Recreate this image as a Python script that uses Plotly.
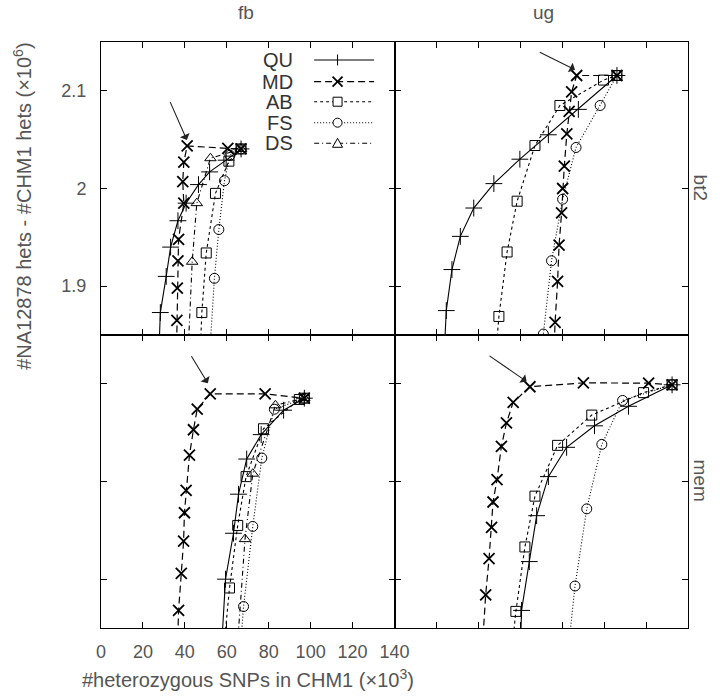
import plotly.graph_objects as go

SERIES = ["QU", "MD", "AB", "FS", "DS"]
COLUMNS = ["fb", "ug"]
ROWS = ["bt2", "mem"]
X_TICKS = [0, 20, 40, 60, 80, 100, 120, 140]
Y_TICKS = [1.9, 2.0, 2.1]
Y_TICK_LABELS = ["1.9", "2", "2.1"]

# ---- fb / bt2 ----
fb_bt2_QU_x = [27.6, 28.3, 31.1, 33.2, 36.7, 40.6, 46.5, 51.8, 59.7, 66.8]
fb_bt2_QU_y = [1.83, 1.873, 1.910, 1.940, 1.967, 1.985, 2.004, 2.017, 2.029, 2.0405]
fb_bt2_MD_x = [36.0, 36.2, 36.4, 36.7, 37.0, 39.5, 39.0, 39.5, 41.1, 60.5, 66.8]
fb_bt2_MD_y = [1.83, 1.865, 1.898, 1.926, 1.948, 1.985, 2.007, 2.027, 2.0436, 2.041, 2.0405]
fb_bt2_AB_x = [47.3, 48.1, 50.2, 54.6, 61.0, 66.8]
fb_bt2_AB_y = [1.83, 1.873, 1.934, 1.995, 2.028, 2.0405]
fb_bt2_FS_x = [51.8, 54.1, 56.2, 58.9, 61.5, 66.8]
fb_bt2_FS_y = [1.83, 1.908, 1.958, 2.008, 2.034, 2.0405]
fb_bt2_DS_x = [41.5, 43.5, 45.7, 52.2, 66.8]
fb_bt2_DS_y = [1.83, 1.925, 1.985, 2.031, 2.0405]

# ---- ug / bt2 ----
ug_bt2_QU_x = [23.7, 24.7, 27.4, 31.4, 37.8, 47.4, 59.8, 73.4, 87.7, 106.1]
ug_bt2_QU_y = [1.83, 1.875, 1.917, 1.951, 1.980, 2.005, 2.030, 2.055, 2.081, 2.1157]
ug_bt2_MD_x = [76.0, 76.6, 77.8, 78.5, 79.7, 80.2, 81.0, 82.2, 83.3, 84.5, 86.9, 106.1]
ug_bt2_MD_y = [1.83, 1.863, 1.905, 1.942, 1.975, 2.000, 2.023, 2.056, 2.079, 2.099, 2.1157, 2.1157]
ug_bt2_AB_x = [48.3, 49.8, 53.7, 58.5, 67.0, 78.9, 99.7, 106.1]
ug_bt2_AB_y = [1.83, 1.869, 1.935, 1.987, 2.044, 2.085, 2.111, 2.1157]
ug_bt2_FS_x = [70.3, 71.0, 74.9, 80.2, 86.6, 98.1, 106.1]
ug_bt2_FS_y = [1.83, 1.851, 1.926, 1.989, 2.042, 2.085, 2.1157]

# ---- fb / mem ----
fb_mem_QU_x = [57.5, 59.4, 63.2, 65.6, 69.5, 76.4, 87.1, 97.0]
fb_mem_QU_y = [1.83, 1.900, 1.947, 1.987, 2.023, 2.048, 2.073, 2.0853]
fb_mem_MD_x = [36.5, 37.0, 38.3, 39.4, 39.8, 40.6, 42.2, 44.1, 45.9, 52.1, 78.3, 97.0]
fb_mem_MD_y = [1.83, 1.868, 1.906, 1.939, 1.968, 1.991, 2.027, 2.053, 2.074, 2.0897, 2.0897, 2.0853]
fb_mem_AB_x = [58.6, 61.3, 65.2, 69.2, 77.5, 94.6, 97.0]
fb_mem_AB_y = [1.83, 1.891, 1.955, 2.005, 2.054, 2.084, 2.0853]
fb_mem_FS_x = [66.5, 68.0, 72.4, 76.7, 82.7, 97.0]
fb_mem_FS_y = [1.83, 1.872, 1.954, 2.024, 2.074, 2.0853]
fb_mem_DS_x = [65.0, 68.7, 72.4, 83.2, 97.0]
fb_mem_DS_y = [1.83, 1.941, 2.008, 2.078, 2.0853]

# ---- ug / mem ----
ug_mem_QU_x = [60.1, 60.6, 64.3, 67.8, 73.4, 82.1, 95.4, 111.6, 132.4]
ug_mem_QU_y = [1.83, 1.868, 1.918, 1.965, 2.005, 2.035, 2.057, 2.077, 2.099]
ug_mem_MD_x = [41.9, 43.5, 45.1, 46.3, 47.0, 48.9, 51.0, 53.4, 56.6, 64.6, 90.1, 121.2, 132.4]
ug_mem_MD_y = [1.83, 1.884, 1.921, 1.953, 1.979, 2.002, 2.036, 2.060, 2.081, 2.097, 2.101, 2.1007, 2.099]
ug_mem_AB_x = [56.1, 57.9, 62.2, 67.0, 77.8, 94.1, 118.8, 132.4]
ug_mem_AB_y = [1.83, 1.867, 1.933, 1.985, 2.037, 2.068, 2.091, 2.099]
ug_mem_FS_x = [83.0, 86.1, 91.7, 98.9, 108.8, 132.4]
ug_mem_FS_y = [1.83, 1.893, 1.972, 2.038, 2.083, 2.099]

# arrows: (head x, head y, tail x, tail y) per panel
ARROWS = {
    "fb_bt2": (40.95, 2.0497, 32.7, 2.090),
    "ug_bt2": (86.1, 2.1215, 68.6, 2.1403),
    "fb_mem": (50.95, 2.1007, 42.7, 2.1297),
    "ug_mem": (63.0, 2.1024, 44.6, 2.1297),
}

DATA = {
    "fb_bt2": {"QU": (fb_bt2_QU_x, fb_bt2_QU_y), "MD": (fb_bt2_MD_x, fb_bt2_MD_y),
               "AB": (fb_bt2_AB_x, fb_bt2_AB_y), "FS": (fb_bt2_FS_x, fb_bt2_FS_y),
               "DS": (fb_bt2_DS_x, fb_bt2_DS_y)},
    "ug_bt2": {"QU": (ug_bt2_QU_x, ug_bt2_QU_y), "MD": (ug_bt2_MD_x, ug_bt2_MD_y),
               "AB": (ug_bt2_AB_x, ug_bt2_AB_y), "FS": (ug_bt2_FS_x, ug_bt2_FS_y)},
    "fb_mem": {"QU": (fb_mem_QU_x, fb_mem_QU_y), "MD": (fb_mem_MD_x, fb_mem_MD_y),
               "AB": (fb_mem_AB_x, fb_mem_AB_y), "FS": (fb_mem_FS_x, fb_mem_FS_y),
               "DS": (fb_mem_DS_x, fb_mem_DS_y)},
    "ug_mem": {"QU": (ug_mem_QU_x, ug_mem_QU_y), "MD": (ug_mem_MD_x, ug_mem_MD_y),
               "AB": (ug_mem_AB_x, ug_mem_AB_y), "FS": (ug_mem_FS_x, ug_mem_FS_y)},
}

STYLE = {
    "QU": dict(dash="solid", symbol="cross-thin", size=12, mlw=1.0, lw=1.1),
    "MD": dict(dash="7px,4px", symbol="x-thin", size=11, mlw=1.8, lw=1.2),
    "AB": dict(dash="3px,3px", symbol="square-open", size=10, mlw=1.0, lw=1.1),
    "FS": dict(dash="1px,2px", symbol="circle-open", size=10, mlw=1.0, lw=1.1),
    "DS": dict(dash="5px,3px,1px,3px", symbol="triangle-up-open", size=10, mlw=1.0, lw=1.1),
}

PANELS = [("fb_bt2", "x", "y"), ("ug_bt2", "x2", "y2"),
          ("fb_mem", "x3", "y3"), ("ug_mem", "x4", "y4")]

fig = go.Figure()
for key, xa, ya in PANELS:
    for name in SERIES:
        if name not in DATA[key]:
            continue
        xs, ys = DATA[key][name]
        st = STYLE[name]
        fig.add_trace(go.Scatter(
            x=xs, y=ys, xaxis=xa, yaxis=ya, mode="lines+markers", name=name,
            showlegend=False, cliponaxis=True,
            line=dict(color="black", width=st["lw"], dash=st["dash"]),
            marker=dict(symbol=st["symbol"], size=st["size"], color="black",
                        line=dict(color="black", width=st["mlw"])),
        ))

TICK_FONT = dict(family="Liberation Sans, Arial, sans-serif", size=18, color="#555")
common_x = dict(range=[0, 140], tickvals=X_TICKS, ticks="inside", ticklen=6,
                tickcolor="black", showline=True, linecolor="black", linewidth=1,
                mirror="ticks", showgrid=False, zeroline=False, tickfont=TICK_FONT,
                ticklabelstandoff=7)
common_y = dict(range=[1.85, 2.15], tickvals=Y_TICKS, ticktext=Y_TICK_LABELS,
                ticks="inside", ticklen=6, tickcolor="black", showline=True,
                linecolor="black", linewidth=1, mirror="ticks", showgrid=False,
                zeroline=False, tickfont=TICK_FONT, ticklabelstandoff=10)

fig.update_layout(
    width=720, height=696,
    margin=dict(l=101, r=32, t=42, b=68),
    paper_bgcolor="white", plot_bgcolor="white",
    showlegend=False,
    xaxis=dict(common_x, domain=[0, 0.5], anchor="y", showticklabels=False),
    yaxis=dict(common_y, domain=[0.5, 1], anchor="x", showticklabels=True),
    xaxis2=dict(common_x, domain=[0.5, 1], anchor="y2", showticklabels=False),
    yaxis2=dict(common_y, domain=[0.5, 1], anchor="x2", showticklabels=False),
    xaxis3=dict(common_x, domain=[0, 0.5], anchor="y3", showticklabels=True),
    yaxis3=dict(common_y, domain=[0, 0.5], anchor="x3", showticklabels=False),
    xaxis4=dict(common_x, domain=[0.5, 1], anchor="y4", showticklabels=False),
    yaxis4=dict(common_y, domain=[0, 0.5], anchor="x4", showticklabels=False),
)

TEXT_FONT = dict(family="Liberation Sans, Arial, sans-serif", size=19, color="#555")
annotations = []
# column titles
annotations.append(dict(text=COLUMNS[0], x=0.247, y=1.051, xref="paper", yref="paper",
                        showarrow=False, font=TEXT_FONT, xanchor="center", yanchor="middle"))
annotations.append(dict(text=COLUMNS[1], x=0.753, y=1.051, xref="paper", yref="paper",
                        showarrow=False, font=TEXT_FONT, xanchor="center", yanchor="middle"))
# row labels
annotations.append(dict(text=ROWS[0], x=1.021, y=0.751, xref="paper", yref="paper",
                        showarrow=False, font=TEXT_FONT, textangle=90,
                        xanchor="center", yanchor="middle"))
annotations.append(dict(text=ROWS[1], x=1.021, y=0.251, xref="paper", yref="paper",
                        showarrow=False, font=TEXT_FONT, textangle=90,
                        xanchor="center", yanchor="middle"))
# axis titles
TITLE_FONT = dict(family="Liberation Sans, Arial, sans-serif", size=20, color="#555")
annotations.append(dict(text="#heterozygous SNPs in CHM1 (×10<sup>3</sup>)",
                        x=0.25, y=-0.087, xref="paper", yref="paper", showarrow=False,
                        font=TITLE_FONT, xanchor="center", yanchor="middle"))
annotations.append(dict(text="#NA12878 hets - #CHM1 hets (×10<sup>6</sup>)",
                        x=-0.135, y=0.72, xref="paper", yref="paper", showarrow=False,
                        font=TITLE_FONT, textangle=-90, xanchor="center", yanchor="middle"))
# arrows
for key, xa, ya in PANELS:
    hx, hy, tx, ty = ARROWS[key]
    annotations.append(dict(x=hx, y=hy, ax=tx, ay=ty, xref=xa, yref=ya,
                            axref=xa, ayref=ya, text="", showarrow=True,
                            arrowhead=1, arrowsize=1.6, arrowwidth=1.1,
                            arrowcolor="#222"))

# manual legend (gnuplot style: label left, sample right) in top-left panel
W, H = 293.5, 293.0
LEG_ROWS = [0.9386, 0.8645, 0.7962, 0.7246, 0.6543]
LEG_TEXT_X = 0.6595
LEG_LINE = (0.7262, 0.9305)
LEG_MARK_X = 0.806
LEG_FONT = dict(family="Liberation Sans, Arial, sans-serif", size=20, color="#333")
shapes = []
dref = dict(xref="x domain", yref="y domain")
for name, ry in zip(SERIES, LEG_ROWS):
    st = STYLE[name]
    annotations.append(dict(text=name, x=LEG_TEXT_X, y=ry, showarrow=False,
                            xanchor="right", yanchor="middle", font=LEG_FONT, **dref))
    shapes.append(dict(type="line", x0=LEG_LINE[0], x1=LEG_LINE[1], y0=ry, y1=ry,
                       line=dict(color="black", width=st["lw"], dash=st["dash"]), **dref))
    cx = LEG_MARK_X
    r = 4.5
    if name == "QU":
        shapes.append(dict(type="line", x0=cx, x1=cx, y0=ry - 5.5 / H, y1=ry + 5.5 / H,
                           line=dict(color="black", width=1), **dref))
    elif name == "MD":
        shapes.append(dict(type="line", x0=cx - 5 / W, x1=cx + 5 / W, y0=ry - 5 / H,
                           y1=ry + 5 / H, line=dict(color="black", width=1.8), **dref))
        shapes.append(dict(type="line", x0=cx - 5 / W, x1=cx + 5 / W, y0=ry + 5 / H,
                           y1=ry - 5 / H, line=dict(color="black", width=1.8), **dref))
    elif name == "AB":
        shapes.append(dict(type="rect", x0=cx - r / W, x1=cx + r / W, y0=ry - r / H,
                           y1=ry + r / H, fillcolor="white",
                           line=dict(color="black", width=1), **dref))
    elif name == "FS":
        shapes.append(dict(type="circle", x0=cx - r / W, x1=cx + r / W, y0=ry - r / H,
                           y1=ry + r / H, fillcolor="white",
                           line=dict(color="black", width=1), **dref))
    elif name == "DS":
        p = (f"M {cx - 5 / W} {ry - 4 / H} L {cx + 5 / W} {ry - 4 / H} "
             f"L {cx} {ry + 5 / H} Z")
        shapes.append(dict(type="path", path=p, fillcolor="white",
                           line=dict(color="black", width=1), **dref))

fig.update_layout(annotations=annotations, shapes=shapes)
fig.write_html("out.html", config={"displayModeBar": False},
               post_script="document.body.style.margin='0';"
                           "document.body.style.overflow='hidden';")
